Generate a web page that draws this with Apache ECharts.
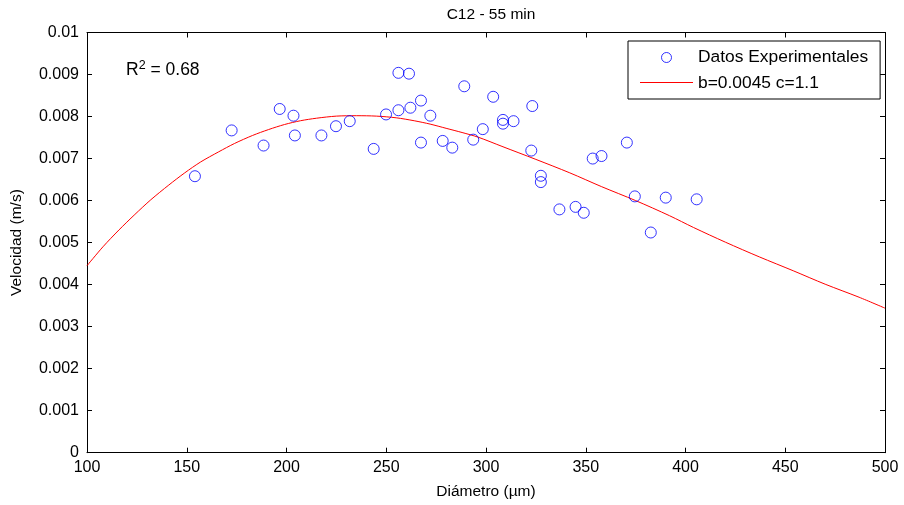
<!DOCTYPE html>
<html>
<head>
<meta charset="utf-8">
<script src="https://cdn.jsdelivr.net/npm/echarts@6/dist/echarts.min.js"></script>
<style>
  html, body { margin: 0; padding: 0; background: #fff; }
  #chart { width: 904px; height: 505px; }
</style>
</head>
<body>
<div id="chart"></div>
<script>
// Measured settling velocity vs. particle diameter
const diamX = [154.1, 172.5, 188.5, 196.6, 203.5, 204.2, 217.5, 224.8, 231.7, 243.7,
  249.9, 256.1, 256.1, 261.4, 262.1, 267.4, 267.4, 272.1, 278.3, 283.1,
  289.1, 293.6, 298.4, 303.6, 308.5, 308.5, 313.8, 323.2, 322.7, 327.5,
  327.5, 336.8, 344.9, 349.0, 353.5, 357.9, 370.6, 374.6, 382.6, 390.1, 405.6];
const velY = [0.00658, 0.00767, 0.00731, 0.00818, 0.00802, 0.00755, 0.00755, 0.00777, 0.00789, 0.00723,
  0.00805, 0.00904, 0.00815, 0.00902, 0.00821, 0.00838, 0.00738, 0.00802, 0.00742, 0.00726,
  0.00872, 0.00745, 0.00770, 0.00847, 0.00792, 0.00783, 0.00789, 0.00825, 0.00719, 0.00659,
  0.00644, 0.00579, 0.00585, 0.00571, 0.00700, 0.00706, 0.00738, 0.00610, 0.00524, 0.00607, 0.00603];

// Fitted model curve (b=0.0045, c=1.1)
const curveX = [100, 108, 116, 124, 132, 141, 149, 157, 166, 174, 183, 191, 199, 207, 215, 225,
  235, 245, 255, 264, 272, 280, 288, 296, 308, 325, 342, 358, 375, 392, 404, 420, 437, 454, 470, 487, 500];
const curveY = [0.00445, 0.00490, 0.00530, 0.00567, 0.00602, 0.00637, 0.00666, 0.00692, 0.00716, 0.00736,
  0.00755, 0.00769, 0.00781, 0.00790, 0.00796, 0.00801, 0.00802, 0.00801, 0.00797, 0.00790, 0.00782,
  0.00772, 0.00762, 0.00751, 0.00729, 0.00698, 0.00666, 0.00633, 0.00600, 0.00564, 0.00536, 0.00501,
  0.00466, 0.00433, 0.00401, 0.00370, 0.00344];

const xTicks = { min: 100, max: 500, interval: 50 };
const yTicks = { min: 0, max: 0.01, interval: 0.001 };

const FONT = '"Liberation Sans", Arial, sans-serif';

const chart = echarts.init(document.getElementById('chart'), null, { renderer: 'canvas' });

const frameAxis = (extra) => Object.assign({
  type: 'value',
  axisLine: { show: true, onZero: false, lineStyle: { color: '#000', width: 1 } },
  axisTick: { show: true, inside: true, length: 5, lineStyle: { color: '#000', width: 1 } },
  splitLine: { show: false }
}, extra);

chart.setOption({
  animation: false,
  backgroundColor: '#fff',
  textStyle: { fontFamily: FONT },
  title: {
    text: 'C12 - 55 min',
    left: 486, top: 2, textAlign: 'center',
    textStyle: { fontFamily: FONT, fontSize: 15.5, fontWeight: 'normal', color: '#000' }
  },
  grid: { left: 87, top: 32.5, right: 19, bottom: 52.3, containLabel: false },
  legend: {
    orient: 'vertical',
    left: 628, top: 41,
    padding: [8, 12, 7, 12],
    itemGap: 9,
    itemWidth: 53, itemHeight: 10,
    borderColor: '#000', borderWidth: 1,
    backgroundColor: '#fff',
    textStyle: { fontFamily: FONT, fontSize: 17.4, color: '#000' },
    data: [
      {
        name: 'Datos Experimentales',
        icon: 'circle',
        itemStyle: { color: 'rgba(0,0,0,0)', borderColor: '#0000ff', borderWidth: 1 }
      },
      // the red sample stroke for this entry is drawn as a graphic below
      { name: 'b=0.0045 c=1.1', icon: 'none' }
    ]
  },
  xAxis: [
    frameAxis(Object.assign({
      position: 'bottom',
      name: 'Diámetro (µm)', nameLocation: 'middle', nameGap: 31,
      nameTextStyle: { fontFamily: FONT, fontSize: 15.5, color: '#000' },
      axisLabel: { color: '#000', fontFamily: FONT, fontSize: 16, margin: 7 }
    }, xTicks)),
    frameAxis(Object.assign({ position: 'top', axisLabel: { show: false } }, xTicks))
  ],
  yAxis: [
    frameAxis(Object.assign({
      position: 'left',
      name: 'Velocidad (m/s)', nameLocation: 'middle', nameGap: 62,
      nameTextStyle: { fontFamily: FONT, fontSize: 15.5, color: '#000' },
      axisLabel: { color: '#000', fontFamily: FONT, fontSize: 16, margin: 8 }
    }, yTicks)),
    frameAxis(Object.assign({ position: 'right', axisLabel: { show: false } }, yTicks))
  ],
  graphic: [
    {
      type: 'text',
      left: 126, top: 59,
      style: {
        text: 'R{sup|2} = 0.68',
        fontFamily: FONT, fontSize: 17.5, fill: '#000',
        rich: { sup: { fontSize: 12.5, verticalAlign: 'top', padding: [0, 0, 9, 0], fontFamily: FONT } }
      }
    },
    {
      // legend key for the fitted curve
      type: 'line',
      z: 100,
      shape: { x1: 640, y1: 82.5, x2: 693, y2: 82.5 },
      style: { stroke: '#ff0000', lineWidth: 1 }
    }
  ],
  series: [
    {
      name: 'Datos Experimentales',
      type: 'scatter',
      data: diamX.map((x, i) => [x, velY[i]]),
      symbol: 'circle',
      symbolSize: 11,
      itemStyle: { color: 'rgba(0,0,0,0)', borderColor: '#0000ff', borderWidth: 1 },
      z: 3
    },
    {
      name: 'b=0.0045 c=1.1',
      type: 'line',
      data: curveX.map((x, i) => [x, curveY[i]]),
      smooth: 0.3,
      symbol: 'none',
      showSymbol: false,
      lineStyle: { color: '#ff0000', width: 1 },
      itemStyle: { color: '#ff0000' },
      z: 2
    }
  ]
});
</script>
</body>
</html>
